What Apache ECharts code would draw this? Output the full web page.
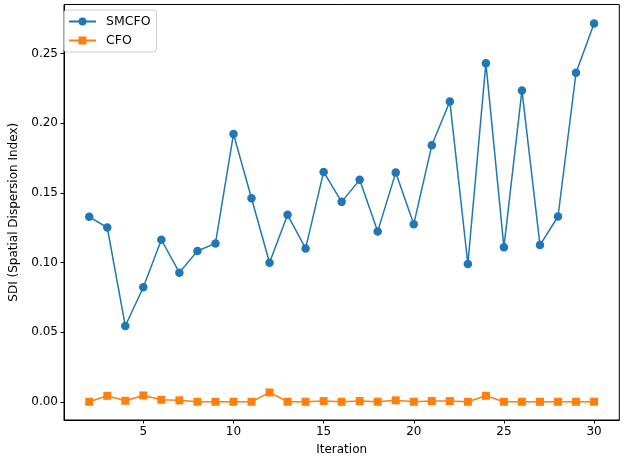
<!DOCTYPE html>
<html><head><meta charset="utf-8">
<script src="https://cdn.jsdelivr.net/npm/echarts@6/dist/echarts.min.js"></script>
<style>html,body{margin:0;padding:0;background:#fff}#c{width:624px;height:461px}</style>
</head><body><div id="c"></div>
<script>
const iterations = [2,3,4,5,6,7,8,9,10,11,12,13,14,15,16,17,18,19,20,21,22,23,24,25,26,27,28,29,30];
const smcfo = [0.1328,0.1251,0.0544,0.0822,0.1163,0.0927,0.1082,0.1137,0.1922,0.1461,0.0998,0.1342,0.1101,0.1650,0.1435,0.1593,0.1223,0.1645,0.1275,0.1841,0.2156,0.0989,0.2431,0.1110,0.2235,0.1125,0.1330,0.2362,0.2715];
const cfo = [0,0.0043,0.0007,0.0045,0.0014,0.0010,0,0,0,0,0.0067,0,0,0.0005,0,0.0005,0,0.0010,0,0.0005,0.0005,0,0.0043,0,0,0,0,0,0];
const xTicks = [5,10,15,20,25,30];
const yTicks = [0,0.05,0.10,0.15,0.20,0.25];

const font = 'DejaVu Sans';
const chart = echarts.init(document.getElementById('c'));
chart.setOption({
  animation:false,
  textStyle:{fontFamily:font},
  grid:{left:58.3,right:4.7,top:4.5,bottom:40,show:true,borderColor:'#000',borderWidth:1,backgroundColor:'transparent'},
  legend:{
    left:64,top:10,orient:'vertical',
    backgroundColor:'rgba(255,255,255,0.8)',
    borderColor:'#ccc',borderWidth:1,borderRadius:3,
    padding:[5,6,5,4],itemGap:6,itemWidth:27,itemHeight:10,
    textStyle:{fontFamily:font,fontSize:12.5,color:'#000',padding:[0,0,0,5]},
    data:['SMCFO','CFO']
  },
  xAxis:{
    type:'value',min:0.6,max:31.4,
    name:'Iteration',nameLocation:'middle',nameGap:24,
    nameTextStyle:{fontFamily:font,fontSize:12,color:'#000'},
    axisLine:{show:true,onZero:false,lineStyle:{color:'#000',width:1}},
    axisTick:{show:true,inside:false,length:3.5,lineStyle:{color:'#000'},customValues:xTicks},
    axisLabel:{color:'#000',fontSize:12,fontFamily:font,margin:6,customValues:xTicks,formatter:v=>String(Math.round(v))},
    splitLine:{show:false}
  },
  yAxis:{
    type:'value',min:-0.0131,max:0.2852,
    name:'SDI (Spatial Dispersion Index)',nameLocation:'middle',nameGap:44,
    nameTextStyle:{fontFamily:font,fontSize:12,color:'#000'},
    axisLine:{show:true,onZero:false,lineStyle:{color:'#000',width:1}},
    axisTick:{show:true,inside:false,length:3.5,lineStyle:{color:'#000'},customValues:yTicks},
    axisLabel:{color:'#000',fontSize:12,fontFamily:font,margin:6,customValues:yTicks,formatter:v=>v.toFixed(2)},
    splitLine:{show:false}
  },
  series:[
    {name:'SMCFO',type:'line',data:iterations.map((x,i)=>[x,smcfo[i]]),
     color:'#1f77b4',lineStyle:{width:1.5,color:'#1f77b4'},symbol:'circle',symbolSize:8.5,
     itemStyle:{color:'#1f77b4'}},
    {name:'CFO',type:'line',data:iterations.map((x,i)=>[x,cfo[i]]),
     color:'#ff7f0e',lineStyle:{width:1.5,color:'#ff7f0e'},symbol:'rect',symbolSize:8,
     itemStyle:{color:'#ff7f0e'}}
  ]
});
</script></body></html>
